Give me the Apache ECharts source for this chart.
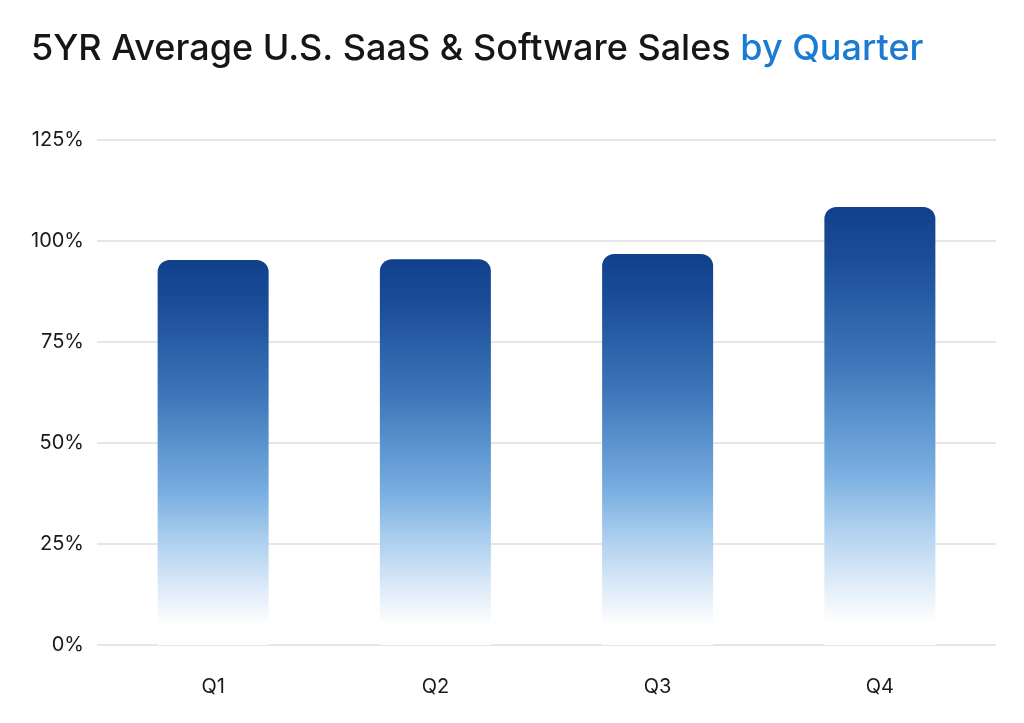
<!DOCTYPE html>
<html>
<head>
<meta charset="utf-8">
<script src="https://cdn.jsdelivr.net/npm/echarts@6/dist/echarts.min.js"></script>
<style>
html,body{margin:0;padding:0;background:#fff;}
#chart{width:1024px;height:723px;}
</style>
</head>
<body>
<div id="chart"></div>
<script>
const categories = ['Q1', 'Q2', 'Q3', 'Q4'];
const values = [95.3, 95.5, 96.8, 108.4];
const yTicks = [0, 25, 50, 75, 100, 125];

const chart = echarts.init(document.getElementById('chart'));
const font = 'Inter, "Noto Sans", sans-serif';
chart.setOption({
  backgroundColor: '#fff',
  animation: false,
  title: {
    text: '{a|5YR Average U.S. SaaS & Software Sales }{b|by Quarter}',
    left: 26,
    top: 26,
    textStyle: {
      rich: {
        a: { fontFamily: font, fontSize: 36, fontWeight: 500, color: '#161616' },
        b: { fontFamily: font, fontSize: 36, fontWeight: 500, color: '#1b7bd3' }
      }
    }
  },
  grid: [
    { left: 97, right: 28, top: 140, bottom: 78 },
    { left: 102, right: 33, top: 140, bottom: 78 }
  ],
  xAxis: [
    { type: 'category', gridIndex: 0, data: categories, show: false },
    {
      type: 'category', gridIndex: 1, data: categories,
      axisLine: { show: false }, axisTick: { show: false },
      axisLabel: { fontFamily: font, fontSize: 20, color: '#1a1a1a', margin: 32 }
    }
  ],
  yAxis: [
    {
      type: 'value', gridIndex: 0, min: 0, max: 125, interval: 25,
      axisLine: { show: false }, axisTick: { show: false },
      splitLine: { lineStyle: { color: '#e6e6e6', width: 2 } },
      axisLabel: {
        fontFamily: font, fontSize: 20, color: '#1a1a1a', margin: 13,
        formatter: function (v) { return yTicks.indexOf(v) >= 0 ? v + '%' : ''; }
      }
    },
    { type: 'value', gridIndex: 1, min: 0, max: 125, interval: 25, show: false }
  ],
  series: [{
    type: 'bar',
    xAxisIndex: 1,
    yAxisIndex: 1,
    data: values,
    barWidth: 111,
    itemStyle: {
      borderRadius: [12, 12, 0, 0],
      color: new echarts.graphic.LinearGradient(0, 0, 0, 1, [
        { offset: 0, color: '#11408b' },
        { offset: 0.12, color: '#1b4e98' },
        { offset: 0.35, color: '#3c76b9' },
        { offset: 0.6, color: '#77ade0' },
        { offset: 0.72, color: '#a9cdee' },
        { offset: 0.85, color: '#dceaf8' },
        { offset: 0.95, color: '#ffffff' },
        { offset: 1, color: '#ffffff' }
      ])
    }
  }]
});
</script>
</body>
</html>
